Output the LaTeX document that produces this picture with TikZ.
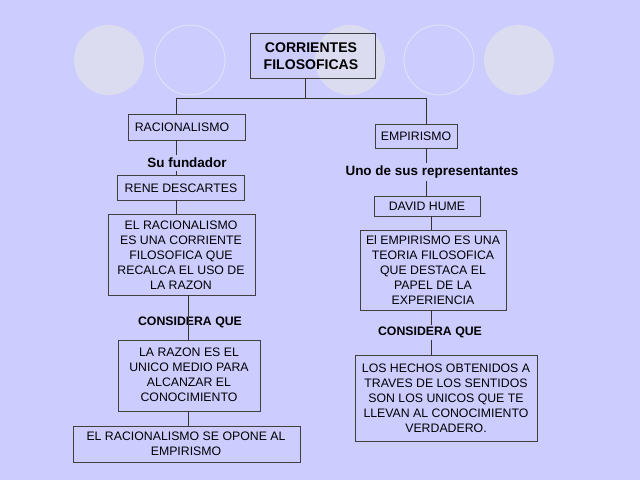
\documentclass[tikz,border=0pt]{standalone}
\usepackage{fontspec}
\setmainfont{Liberation Sans}
\begin{document}
\begin{tikzpicture}[x=0.03cm,y=-0.03cm,
  bx/.style={draw=black!75,line width=0.6pt,inner sep=0pt},
  tx/.style={align=center,font=\fontsize{10.5}{12.8}\selectfont,text=black},
  lb/.style={font=\bfseries\fontsize{11.5}{13}\selectfont,inner sep=1pt},
  ln/.style={draw=black!80,line width=0.6pt}]
\fill[fill={rgb,255:red,204;green,204;blue,255}] (0,0) rectangle (640,480);
\useasboundingbox (0,0) rectangle (640,480);
\foreach \x in {109,350,519} \fill[fill={rgb,255:red,220;green,220;blue,240}] (\x,60) circle (35);
\foreach \x in {190,439} \draw[draw={rgb,255:red,225;green,225;blue,245},line width=0.8pt] (\x,60) circle (35);
% boxes
\draw[bx] (250,33) rectangle (375,78); \node[tx,font=\bfseries\fontsize{12}{14.5}\selectfont] (top) at (311,56) {CORRIENTES\\FILOSOFICAS};
\draw[bx] (128,114) rectangle (245,140); \node[tx] (rac) at (182,127) {RACIONALISMO};
\draw[bx] (375,124) rectangle (457,148); \node[tx] (emp) at (416,136) {EMPIRISMO};
\node[lb] (suf) at (187,163) {Su fundador};
\draw[bx] (117,175) rectangle (244,200); \node[tx] (rene) at (181,188) {RENE DESCARTES};
\draw[bx] (108,214) rectangle (255,295); \node[tx] (r3) at (181,255) {EL RACIONALISMO\\ES UNA CORRIENTE\\FILOSOFICA QUE\\RECALCA EL USO DE\\LA RAZON};
\node[lb,font=\bfseries\fontsize{10.5}{12}\selectfont] (c1) at (190,322) {CONSIDERA QUE};
\draw[bx] (118,340) rectangle (260,411); \node[tx] (r4) at (189,375) {LA RAZON ES EL\\UNICO MEDIO PARA\\ALCANZAR EL\\CONOCIMIENTO};
\draw[bx] (73,426) rectangle (300,462); \node[tx] (r5) at (186,444) {EL RACIONALISMO SE OPONE AL\\EMPIRISMO};
\node[lb] (uno) at (432,172) {Uno de sus representantes};
\draw[bx] (374,196) rectangle (480,216); \node[tx] (dav) at (427,206) {DAVID HUME};
\draw[bx] (360,230) rectangle (506,310); \node[tx] (e3) at (433,270) {El EMPIRISMO ES UNA\\TEORIA FILOSOFICA\\QUE DESTACA EL\\PAPEL DE LA\\EXPERIENCIA};
\node[lb,font=\bfseries\fontsize{10.5}{12}\selectfont] (c2) at (430,332) {CONSIDERA QUE};
\draw[bx] (355,355) rectangle (537,441); \node[tx] (e4) at (446,398) {LOS HECHOS OBTENIDOS A\\TRAVES DE LOS SENTIDOS\\SON LOS UNICOS QUE TE\\LLEVAN AL CONOCIMIENTO\\VERDADERO.};
% connectors
\coordinate (j1) at (305,98); \coordinate (jl) at (176,98); \coordinate (jr) at (426,98);
\draw[ln] (305,78) -- (j1); \draw[ln] (jl) -- (jr);
\draw[ln] (jl) -- (176,114); \draw[ln] (jr) -- (426,124);
\draw[ln] (176,140) -- (176,155); \draw[ln] (176,171) -- (176,175);
\draw[ln] (176,200) -- (176,214);
\draw[ln] (188,295) -- (188,340);
\draw[ln] (188,411) -- (188,426);
\draw[ln] (426,148) -- (426,163); \draw[ln] (426,181) -- (426,196);
\draw[ln] (431,216) -- (431,230);
\draw[ln] (431,310) -- (431,325); \draw[ln] (431,340) -- (431,355);
\end{tikzpicture}
\end{document}
